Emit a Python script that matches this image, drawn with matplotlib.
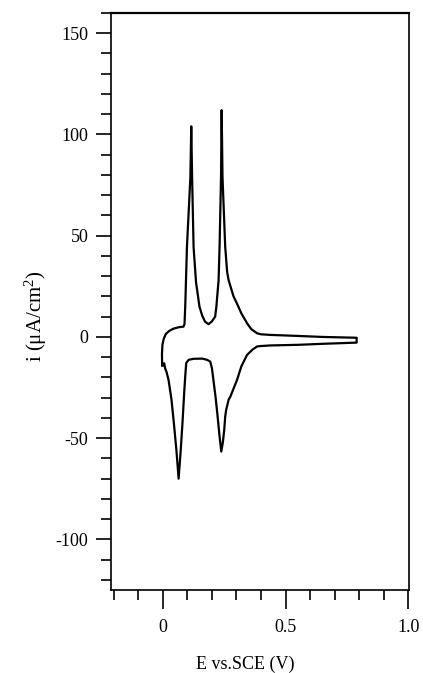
import matplotlib
matplotlib.use("Agg")
import matplotlib.pyplot as plt
from matplotlib.ticker import MultipleLocator, FixedLocator

plt.rcParams['font.family'] = ['Liberation Serif', 'DejaVu Serif']
plt.rcParams['mathtext.fontset'] = 'custom'
plt.rcParams['mathtext.rm'] = 'Liberation Serif'
plt.rcParams['mathtext.it'] = 'Liberation Serif:italic'

# Anodic (forward) scan: potential (V vs SCE) and current density (uA/cm2)
E_forward = [-0.003, -0.004, -0.002, 0.003, 0.012, 0.025, 0.043, 0.065, 0.084, 0.088,
             0.091, 0.098, 0.112, 0.1155, 0.119, 0.125, 0.135, 0.149, 0.160, 0.172,
             0.186, 0.200, 0.213, 0.218, 0.227, 0.231, 0.237, 0.2395, 0.243, 0.254,
             0.262, 0.268, 0.288, 0.302, 0.320, 0.343, 0.360, 0.384, 0.400, 0.438,
             0.55, 0.65, 0.79]
i_forward = [-14, -8.7, -3.9, -1.0, 1.5, 2.9, 4.1, 4.8, 5.1, 6.3,
             15, 44.5, 79, 104, 79, 44.5, 27, 15, 10.6, 7.5,
             6.3, 7.7, 10, 15, 28, 44.5, 79, 112, 79, 44.5,
             32, 28, 20, 16.5, 11.6, 6.8, 3.9, 1.8, 1.3, 1.0,
             0.5, 0.0, -0.4]

# Cathodic (reverse) scan
E_reverse = [0.79, 0.65, 0.55, 0.438, 0.400, 0.384, 0.365, 0.343, 0.320, 0.302,
             0.275, 0.268, 0.258, 0.254, 0.250, 0.2445, 0.238, 0.230, 0.222, 0.215,
             0.206, 0.200, 0.193, 0.180, 0.160, 0.125, 0.105, 0.095, 0.091, 0.087,
             0.080, 0.072, 0.064, 0.055, 0.045, 0.035, 0.023, 0.015, 0.009, 0.005,
             0.002, -0.003]
i_reverse = [-2.8, -3.4, -3.9, -4.2, -4.5, -4.7, -6.3, -8.9, -14.5, -21.3,
             -29.5, -31, -36, -39.3, -46, -52, -56.6, -48, -38, -30,
             -21.3, -15.5, -12.2, -11.3, -10.7, -10.8, -11.3, -12.9, -19.4, -27,
             -42, -57, -70, -56, -43, -31, -21.3, -17.4, -15.5, -13,
             -14, -14]

x_major = [0, 0.5, 1.0]
x_major_labels = ["0", "0.5", "1.0"]
y_major = [-100, -50, 0, 50, 100, 150]
y_major_labels = ["-100", "-50", "0", "50", "100", "150"]

fig = plt.figure(figsize=(4.23, 6.73), dpi=100)
ax = fig.add_axes([0.2617, 0.1233, 0.706, 0.8574])

ax.plot(E_forward + E_reverse, i_forward + i_reverse, color='black', lw=1.6,
        solid_joinstyle='round')

ax.set_xlim(-0.213, 1.005)
ax.set_ylim(-125, 160)

ax.xaxis.set_major_locator(FixedLocator(x_major))
ax.set_xticklabels(x_major_labels)
ax.xaxis.set_minor_locator(MultipleLocator(0.1))
ax.yaxis.set_major_locator(FixedLocator(y_major))
ax.set_yticklabels(y_major_labels)
ax.yaxis.set_minor_locator(MultipleLocator(10))

ax.tick_params(axis='x', which='major', direction='out', length=14, width=1.2,
               pad=7, labelsize=13)
ax.tick_params(axis='x', which='minor', direction='out', length=7, width=1.2)
ax.tick_params(axis='y', which='major', direction='out', length=11, width=1.2,
               pad=5, labelsize=13)
ax.tick_params(axis='y', which='minor', direction='out', length=7, width=1.2)

for s in ax.spines.values():
    s.set_linewidth(1.2)
ax.spines['top'].set_linewidth(1.6)

fig.text(245 / 423, 1 - 664 / 673, "E vs.SCE (V)", ha='center', va='center',
         fontsize=13)
fig.text(36 / 423, 1 - 316 / 673, "i (\u03bcA/cm$^{2}$)", ha='center', va='center',
         rotation=90, fontsize=15)

fig.savefig("out.png", dpi=100)
